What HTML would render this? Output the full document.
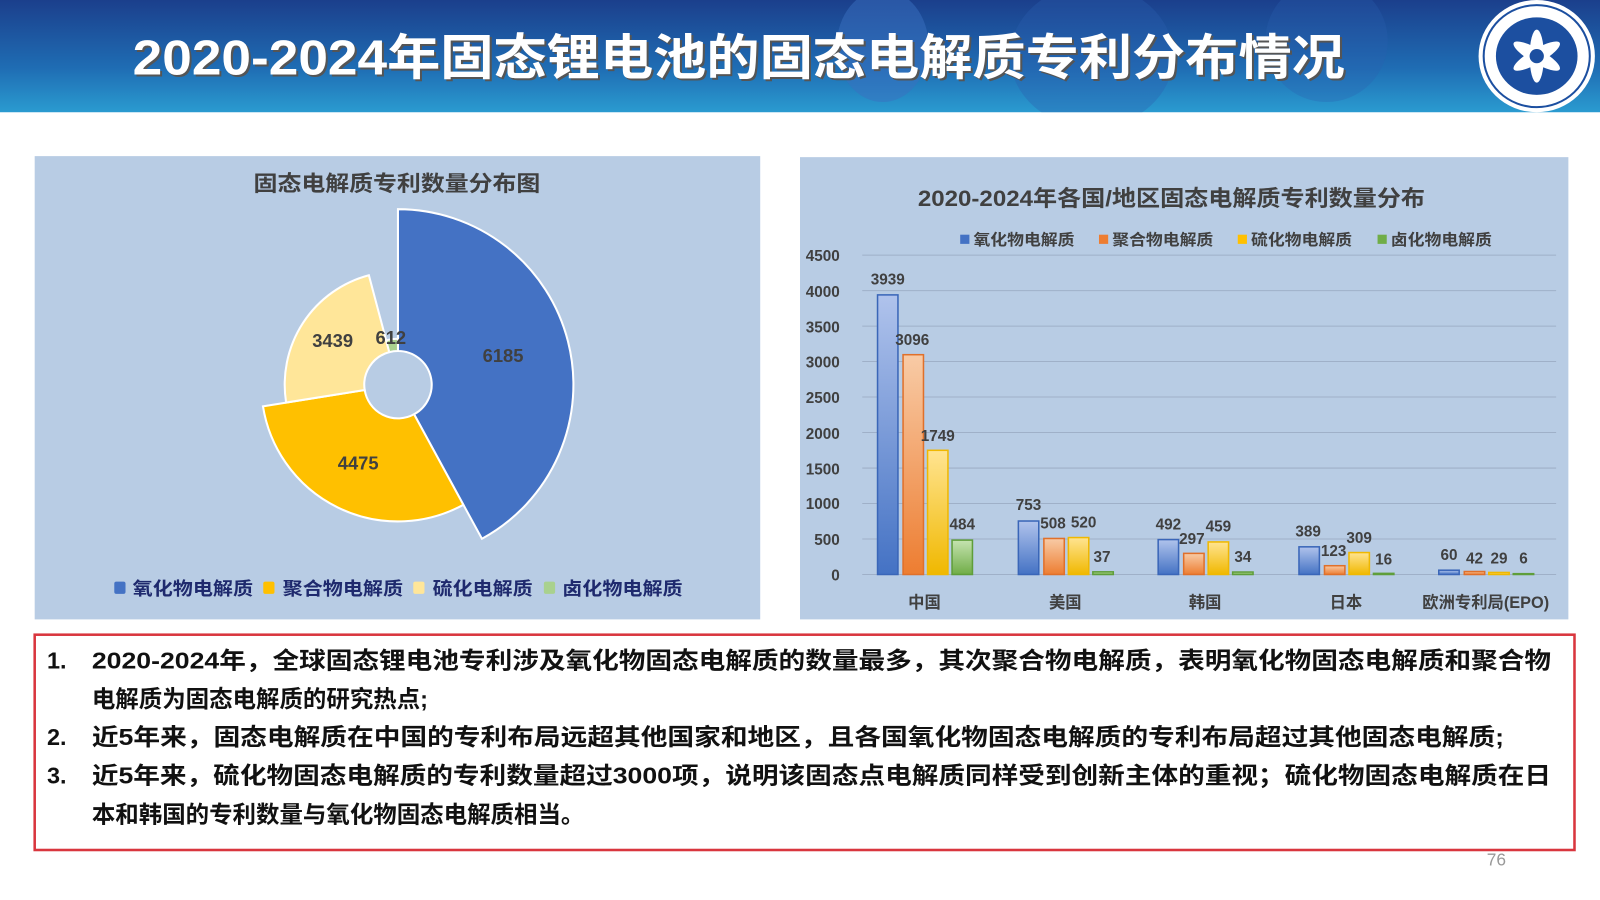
<!DOCTYPE html>
<html><head><meta charset="utf-8"><style>
html,body{margin:0;padding:0;background:#fff;width:1600px;height:900px;overflow:hidden}
svg{display:block}
text{font-family:"Liberation Sans","Noto Sans CJK SC",sans-serif;font-weight:bold}
</style></head><body>
<svg width="1600" height="900" viewBox="0 0 1568 882" preserveAspectRatio="none" xmlns="http://www.w3.org/2000/svg">
<defs>
<linearGradient id="hd" x1="0" y1="0" x2="0" y2="1"><stop offset="0" stop-color="#1b3f8c"/><stop offset="0.6" stop-color="#1f6cb3"/><stop offset="1" stop-color="#2a9bd0"/></linearGradient>
<linearGradient id="gb" x1="0" y1="0" x2="0" y2="1"><stop offset="0" stop-color="#b0c3ec"/><stop offset="1" stop-color="#4472c4"/></linearGradient>
<linearGradient id="go" x1="0" y1="0" x2="0" y2="1"><stop offset="0" stop-color="#f8cba6"/><stop offset="1" stop-color="#ed7d31"/></linearGradient>
<linearGradient id="gy" x1="0" y1="0" x2="0" y2="1"><stop offset="0" stop-color="#ffe491"/><stop offset="1" stop-color="#f0b800"/></linearGradient>
<linearGradient id="gg" x1="0" y1="0" x2="0" y2="1"><stop offset="0" stop-color="#c5e3b0"/><stop offset="1" stop-color="#70ad47"/></linearGradient>
<clipPath id="hc"><rect x="0" y="0" width="1568" height="110"/></clipPath>
</defs>
<rect x="0" y="0" width="1568" height="110" fill="url(#hd)"/>
<g clip-path="url(#hc)">
<ellipse cx="865" cy="45" rx="45" ry="55" fill="#3a6fc0" opacity="0.5"/>
<ellipse cx="1070" cy="55" rx="80" ry="70" fill="#2a5fb0" opacity="0.35"/>
<ellipse cx="1300" cy="40" rx="60" ry="60" fill="#2a5fb0" opacity="0.3"/>
</g>
<text x="130" y="73" font-size="48" fill="#555" textLength="1188" lengthAdjust="spacingAndGlyphs" transform="translate(2,2)">2020-2024年固态锂电池的固态电解质专利分布情况</text>
<text x="130" y="73" font-size="48" fill="#fff" textLength="1188" lengthAdjust="spacingAndGlyphs">2020-2024年固态锂电池的固态电解质专利分布情况</text>
<ellipse cx="1506" cy="55" rx="57" ry="55" fill="#fff"/>
<ellipse cx="1506" cy="55" rx="52" ry="50" fill="none" stroke="#1c4fa0" stroke-width="2"/>
<ellipse cx="1506" cy="55" rx="40" ry="38" fill="#1c4fa0"/>
<g fill="#fff" transform="translate(1506,55)">
<ellipse rx="7" ry="26"/><ellipse rx="7" ry="26" transform="rotate(60)"/><ellipse rx="7" ry="26" transform="rotate(120)"/>
<circle r="7" fill="#1c4fa0"/></g>

<rect x="34" y="153" width="711" height="454" fill="#b8cce4"/>
<text x="389" y="187" font-size="21" fill="#404040" text-anchor="middle" textLength="281" lengthAdjust="spacingAndGlyphs">固态电解质专利数量分布图</text>
<g stroke="#fff" stroke-width="2">
<path d="M390,205 A172,172 0 0 1 472.3,528 L405.8,406 A33,33 0 0 0 390,344 Z" fill="#4472c4"/>
<path d="M454.1,494.7 A134,134 0 0 1 257.7,398.2 L357.4,382.2 A33,33 0 0 0 405.8,406 Z" fill="#ffc000"/>
<path d="M280.4,394.5 A111,111 0 0 1 361.5,269.7 L381.5,345.1 A33,33 0 0 0 357.4,382.2 Z" fill="#ffe699"/>
<path d="M378.4,333.5 A45,45 0 0 1 390,332 L390,344 A33,33 0 0 0 381.5,345.1 Z" fill="#a9d18e"/>
</g>
<g font-size="18" fill="#404040" text-anchor="middle">
<text x="493" y="355">6185</text><text x="351" y="460">4475</text><text x="326" y="340">3439</text><text x="383" y="337">612</text>
</g>
<g font-size="18" fill="#1f2a6e">
<rect x="112" y="570" width="11" height="12" rx="2" fill="#4472c4"/><text x="130" y="583" textLength="118" lengthAdjust="spacingAndGlyphs">氧化物电解质</text>
<rect x="258" y="570" width="11" height="12" rx="2" fill="#ffc000"/><text x="277" y="583" textLength="118" lengthAdjust="spacingAndGlyphs">聚合物电解质</text>
<rect x="405" y="570" width="11" height="12" rx="2" fill="#ffe699"/><text x="424" y="583" textLength="98" lengthAdjust="spacingAndGlyphs">硫化电解质</text>
<rect x="533" y="570" width="11" height="12" rx="2" fill="#a9d18e"/><text x="551" y="583" textLength="118" lengthAdjust="spacingAndGlyphs">卤化物电解质</text>
</g>

<rect x="784" y="154" width="753" height="453" fill="#b8cce4"/>
<text x="1148" y="202" font-size="22" fill="#404040" text-anchor="middle" textLength="497" lengthAdjust="spacingAndGlyphs">2020-2024年各国/地区固态电解质专利数量分布</text>
<g font-size="15" fill="#404040">
<rect x="941" y="230" width="9" height="9" fill="#4472c4"/><text x="954" y="240" textLength="99" lengthAdjust="spacingAndGlyphs">氧化物电解质</text>
<rect x="1077" y="230" width="9" height="9" fill="#ed7d31"/><text x="1090" y="240" textLength="99" lengthAdjust="spacingAndGlyphs">聚合物电解质</text>
<rect x="1213" y="230" width="9" height="9" fill="#ffc000"/><text x="1226" y="240" textLength="99" lengthAdjust="spacingAndGlyphs">硫化物电解质</text>
<rect x="1350" y="230" width="9" height="9" fill="#70ad47"/><text x="1363" y="240" textLength="99" lengthAdjust="spacingAndGlyphs">卤化物电解质</text>
</g>
<g stroke="#9fb0c8" stroke-width="1">
<line x1="845" x2="1525" y1="250" y2="250"/><line x1="845" x2="1525" y1="284.8" y2="284.8"/><line x1="845" x2="1525" y1="319.6" y2="319.6"/><line x1="845" x2="1525" y1="354.3" y2="354.3"/><line x1="845" x2="1525" y1="389.1" y2="389.1"/><line x1="845" x2="1525" y1="423.9" y2="423.9"/><line x1="845" x2="1525" y1="458.7" y2="458.7"/><line x1="845" x2="1525" y1="493.4" y2="493.4"/><line x1="845" x2="1525" y1="528.2" y2="528.2"/><line x1="845" x2="1525" y1="563" y2="563"/>
</g>
<g font-size="15" fill="#404040" text-anchor="end">
<text x="823" y="256">4500</text><text x="823" y="291">4000</text><text x="823" y="326">3500</text><text x="823" y="360">3000</text><text x="823" y="395">2500</text><text x="823" y="430">2000</text><text x="823" y="465">1500</text><text x="823" y="499">1000</text><text x="823" y="534">500</text><text x="823" y="569">0</text>
</g>
<g stroke-width="1.5">
<rect x="860" y="289" width="20" height="274" fill="url(#gb)" stroke="#3a66b8"/>
<rect x="885" y="347.6" width="20" height="215.4" fill="url(#go)" stroke="#e0702a"/>
<rect x="909" y="441.3" width="20" height="121.7" fill="url(#gy)" stroke="#f0b800"/>
<rect x="933" y="529.3" width="20" height="33.7" fill="url(#gg)" stroke="#5f9e3a"/>
<rect x="998" y="510.6" width="20" height="52.4" fill="url(#gb)" stroke="#3a66b8"/>
<rect x="1023" y="527.7" width="20" height="35.3" fill="url(#go)" stroke="#e0702a"/>
<rect x="1047" y="526.8" width="20" height="36.2" fill="url(#gy)" stroke="#f0b800"/>
<rect x="1071" y="560.4" width="20" height="2.6" fill="url(#gg)" stroke="#5f9e3a"/>
<rect x="1135" y="528.8" width="20" height="34.2" fill="url(#gb)" stroke="#3a66b8"/>
<rect x="1160" y="542.3" width="20" height="20.7" fill="url(#go)" stroke="#e0702a"/>
<rect x="1184" y="531.1" width="20" height="31.9" fill="url(#gy)" stroke="#f0b800"/>
<rect x="1208" y="560.6" width="20" height="2.4" fill="url(#gg)" stroke="#5f9e3a"/>
<rect x="1273" y="535.9" width="20" height="27.1" fill="url(#gb)" stroke="#3a66b8"/>
<rect x="1298" y="554.4" width="20" height="8.6" fill="url(#go)" stroke="#e0702a"/>
<rect x="1322" y="541.5" width="20" height="21.5" fill="url(#gy)" stroke="#f0b800"/>
<rect x="1346" y="561.9" width="20" height="1.1" fill="url(#gg)" stroke="#5f9e3a"/>
<rect x="1410" y="558.8" width="20" height="4.2" fill="url(#gb)" stroke="#3a66b8"/>
<rect x="1435" y="560.1" width="20" height="2.9" fill="url(#go)" stroke="#e0702a"/>
<rect x="1459" y="561" width="20" height="2" fill="url(#gy)" stroke="#f0b800"/>
<rect x="1483" y="562.2" width="20" height="0.8" fill="url(#gg)" stroke="#5f9e3a"/>
</g>
<g font-size="15" fill="#404040" text-anchor="middle">
<text x="870" y="279">3939</text><text x="894" y="338">3096</text><text x="919" y="432">1749</text><text x="943" y="519">484</text>
<text x="1008" y="500">753</text><text x="1032" y="518">508</text><text x="1062" y="517">520</text><text x="1080" y="551">37</text>
<text x="1145" y="519">492</text><text x="1168" y="533">297</text><text x="1194" y="521">459</text><text x="1218" y="551">34</text>
<text x="1282" y="526">389</text><text x="1307" y="545">123</text><text x="1332" y="532">309</text><text x="1356" y="553">16</text>
<text x="1420" y="549">60</text><text x="1445" y="552">42</text><text x="1469" y="552">29</text><text x="1493" y="552">6</text>
</g>
<g font-size="16" fill="#404040" text-anchor="middle">
<text x="906" y="596">中国</text><text x="1044" y="596">美国</text><text x="1181" y="596">韩国</text><text x="1319" y="596">日本</text><text x="1456" y="596">欧洲专利局(EPO)</text>
</g>

<rect x="34" y="622" width="1509" height="211" fill="none" stroke="#d9363e" stroke-width="2.5"/>
<g font-size="23" fill="#111">
<text x="46" y="655">1.</text>
<text x="90" y="655" textLength="1430" lengthAdjust="spacingAndGlyphs">2020-2024年，全球固态锂电池专利涉及氧化物固态电解质的数量最多，其次聚合物电解质，表明氧化物固态电解质和聚合物</text>
<text x="90" y="693">电解质为固态电解质的研究热点;</text>
<text x="46" y="730">2.</text>
<text x="90" y="730" textLength="1384" lengthAdjust="spacingAndGlyphs">近5年来，固态电解质在中国的专利布局远超其他国家和地区，且各国氧化物固态电解质的专利布局超过其他固态电解质;</text>
<text x="46" y="768">3.</text>
<text x="90" y="768" textLength="1430" lengthAdjust="spacingAndGlyphs">近5年来，硫化物固态电解质的专利数量超过3000项，说明该固态点电解质同样受到创新主体的重视；硫化物固态电解质在日</text>
<text x="90" y="806">本和韩国的专利数量与氧化物固态电解质相当。</text>
</g>
<text x="1457" y="848" font-size="17" fill="#999" style="font-weight:normal">76</text>
</svg>
</body></html>
